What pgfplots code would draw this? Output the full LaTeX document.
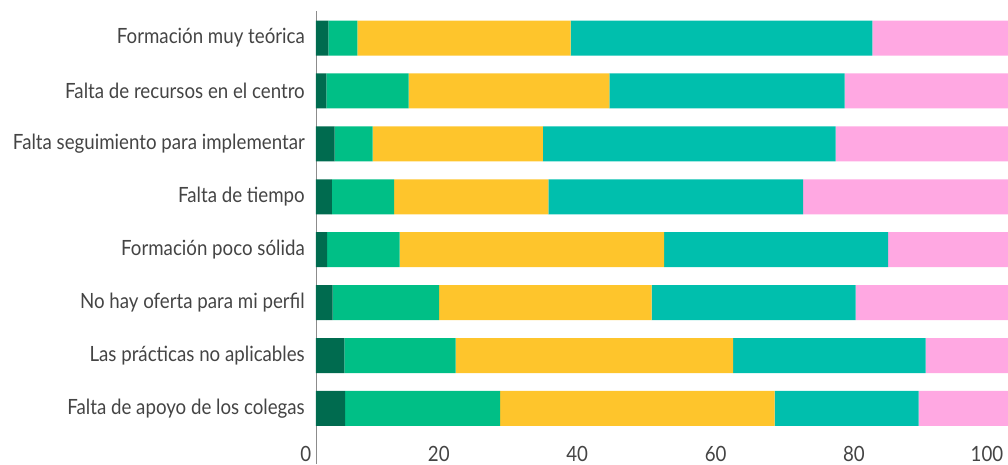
\documentclass[border=0pt]{standalone}
\usepackage{fontspec}
\setmainfont{Lato}[FakeStretch=0.89]
\usepackage{pgfplots}
\pgfplotsset{compat=1.18}
\usepackage{pgfplotstable}

\definecolor{c1}{HTML}{006B4F}
\definecolor{c2}{HTML}{00BF86}
\definecolor{c3}{HTML}{FEC52C}
\definecolor{c4}{HTML}{00BFAD}
\definecolor{c5}{HTML}{FFA8E2}
\definecolor{txt}{HTML}{444444}

% one row per category, bottom to top
\pgfplotstableread{
y a   b    c    d    e
0 4.2 22.4 39.7 20.8 12.9
1 4.1 16.1 40.1 27.8 11.9
2 2.4 15.4 30.7 29.5 22.0
3 1.6 10.5 38.2 32.4 17.3
4 2.3 9.0  22.3 36.8 29.6
5 2.7 5.5  24.6 42.3 24.9
6 1.5 11.9 29.0 34.0 23.6
7 1.8 4.2  30.8 43.6 19.6
}\data

\begin{document}
\begin{tikzpicture}
\begin{axis}[
  scale only axis,
  width=692pt, height=453.3pt,
  xbar stacked,
  bar width=35pt,
  xmin=0, xmax=100,
  ymin=-1.049, ymax=7.516,
  axis x line*=bottom,
  axis y line*=left,
  x axis line style={draw=none},
  y axis line style={draw=black!45, line width=0.8pt},
  major tick length=0pt,
  xtick={0,20,...,100},
  ytick={0,...,7},
  yticklabels={Falta de apoyo de los colegas, Las prácticas no aplicables, No hay oferta para mi perfil, Formación poco sólida, Falta de tiempo, Falta seguimiento para implementar, Falta de recursos en el centro, Formación muy teórica},
  /pgf/number format/assume math mode=true,
  tick label style={font=\fontsize{21}{25}\selectfont, text=txt, inner sep=0pt},
  xticklabel style={anchor=base east, xshift=-4.5pt, yshift=2.5pt},
  yticklabel style={anchor=east, xshift=-11pt},
]
\addplot[fill=c1, draw=none] table[x=a, y=y] {\data};
\addplot[fill=c2, draw=none] table[x=b, y=y] {\data};
\addplot[fill=c3, draw=none] table[x=c, y=y] {\data};
\addplot[fill=c4, draw=none] table[x=d, y=y] {\data};
\addplot[fill=c5, draw=none] table[x=e, y=y] {\data};
\end{axis}
\path ([xshift=-316pt]current axis.south west) rectangle ([yshift=10.7pt]current axis.north east);
\end{tikzpicture}
\end{document}
